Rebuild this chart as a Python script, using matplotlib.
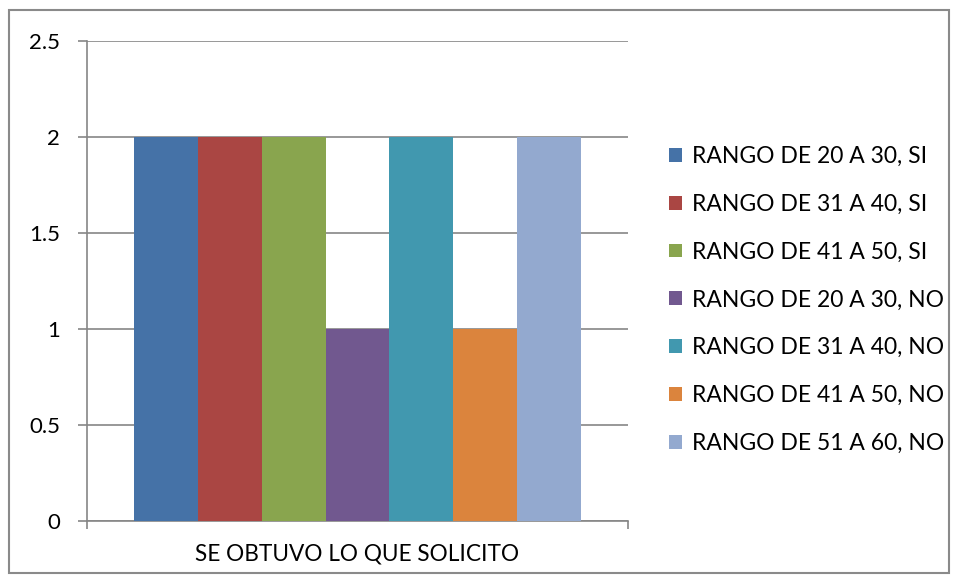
import numpy as np
import matplotlib.pyplot as plt
from matplotlib.patches import Rectangle

categories = ["SE OBTUVO LO QUE SOLICITO"]
series = ["RANGO DE 20 A 30, SI", "RANGO DE 31 A 40, SI", "RANGO DE 41 A 50, SI",
          "RANGO DE 20 A 30, NO", "RANGO DE 31 A 40, NO", "RANGO DE 41 A 50, NO",
          "RANGO DE 51 A 60, NO"]
values = [2, 2, 2, 1, 2, 1, 2]
colors = ["#4572A7", "#AA4643", "#89A54E", "#71588F", "#4198AF", "#DB843D", "#93A9CF"]

plt.rcParams['font.family'] = ['Lato', 'DejaVu Sans']
grid_c = "#868686"

fig = plt.figure(figsize=(9.59, 5.83), dpi=100)
ax = fig.add_axes([87/959, 62/583, 541/959, 480/583])

bw = 0.118
n = len(series)
for i, (s, v, c) in enumerate(zip(series, values, colors)):
    ax.bar(0.5 + (i - (n - 1) / 2) * bw, v, width=bw, color=c, label=s, zorder=3)

ax.set_xlim(0, 1)
ax.set_ylim(0, 2.5)
ax.set_yticks(np.arange(0, 2.51, 0.5))
ax.set_yticklabels(["0", "0.5", "1", "1.5", "2", "2.5"])
ax.yaxis.grid(True, color=grid_c, linewidth=1.2, zorder=0)
ax.tick_params(axis='y', length=6.5, width=1.2, color=grid_c, pad=13, labelsize=16)

ax.set_xticks([0, 1])
ax.set_xticklabels(["", ""])
ax.set_xticks([0.5], minor=True)
ax.set_xticklabels(categories, minor=True)
ax.tick_params(axis='x', which='major', length=6, width=1.2, color=grid_c)
ax.tick_params(axis='x', which='minor', length=0, pad=16, labelsize=16.3)

for sp in ['top', 'right']:
    ax.spines[sp].set_visible(False)
for sp in ['left', 'bottom']:
    ax.spines[sp].set_color(grid_c)
    ax.spines[sp].set_linewidth(1.2)
ax.set_axisbelow(True)

fig.legend(loc='center left', bbox_to_anchor=(669/959, 1 - 300/583), frameon=False,
           fontsize=16.5, handlelength=0.55, handleheight=0.55, handletextpad=0.45,
           labelspacing=1.17, borderpad=0, borderaxespad=0)

fig.patches.append(Rectangle((9/959, 1 - 573/583), 940/959, 563/583, transform=fig.transFigure,
                             fill=False, edgecolor="#8a8a8a", linewidth=1.5))

fig.savefig("out.png", dpi=100)
